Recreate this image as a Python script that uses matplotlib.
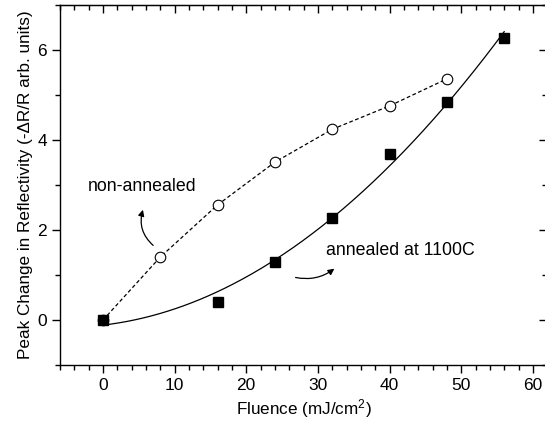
import numpy as np
import matplotlib
matplotlib.use('Agg')
import matplotlib.pyplot as plt
from matplotlib.ticker import MultipleLocator

#################### Fonts
plt.rcParams['font.family'] = ['Liberation Sans', 'DejaVu Sans']
plt.rcParams['mathtext.fontset'] = 'custom'
plt.rcParams['mathtext.rm'] = 'Liberation Sans'
plt.rcParams['mathtext.it'] = 'Liberation Sans:italic'

#################### Data
fluence_open = [0, 8, 16, 24, 32, 40, 48]
refl_open = [0.0, 1.40, 2.56, 3.51, 4.24, 4.76, 5.36]

fluence_ann = [0, 16, 24, 32, 40, 48, 56]
refl_ann = [0.0, 0.40, 1.29, 2.27, 3.69, 4.85, 6.27]

#################### Quadratic fit of the annealed points
coef = np.polyfit(fluence_ann, refl_ann, 2)
xfit = np.linspace(0, 56, 200)
yfit = np.polyval(coef, xfit)

#################### Figure
fig = plt.figure(figsize=(5.45, 4.25), dpi=100)
ax = fig.add_axes([0.110, 0.141, 0.894, 0.847])

ax.plot(fluence_open, refl_open, color='black', lw=0.9, dashes=(3, 2), zorder=2)
ax.plot(fluence_open, refl_open, 'o', ms=7.6, mfc='white', mec='black',
        mew=0.8, zorder=3)
ax.plot(xfit, yfit, color='black', lw=0.9, zorder=2)
ax.plot(fluence_ann, refl_ann, 's', ms=7.6, color='black', zorder=4)

#################### Labels
ax.text(-2.1, 2.96, 'non-annealed', fontsize=12.8, va='center', ha='left')
ax.annotate('', xy=(5.7, 2.51), xytext=(7.3, 1.62),
            arrowprops=dict(arrowstyle='-|>', color='black', lw=0.9,
                            mutation_scale=9,
                            connectionstyle='arc3,rad=-0.35'))
ax.text(31.2, 1.55, 'annealed at 1100C', fontsize=12.8, va='center', ha='left')
ax.annotate('', xy=(32.6, 1.18), xytext=(26.5, 0.96),
            arrowprops=dict(arrowstyle='-|>', color='black', lw=0.9,
                            mutation_scale=9,
                            connectionstyle='arc3,rad=0.25'))

ax.set_xlim(-6, 62)
ax.set_ylim(-1, 7)
ax.set_xlabel('Fluence (mJ/cm$^2$)', fontsize=12.3, labelpad=3)
ax.set_ylabel('Peak Change in Reflectivity (-\u0394R/R arb. units)',
              fontsize=12.3, labelpad=3)

ax.xaxis.set_major_locator(MultipleLocator(10))
ax.xaxis.set_minor_locator(MultipleLocator(2))
ax.yaxis.set_major_locator(MultipleLocator(2))
ax.yaxis.set_minor_locator(MultipleLocator(1))
ax.set_xticks([0, 10, 20, 30, 40, 50, 60])

for s in ax.spines.values():
    s.set_linewidth(1.0)

ax.tick_params(which='both', direction='out', width=1.0, labelsize=12.5,
               top=False, right=False)
ax.tick_params(which='major', length=6)
ax.tick_params(which='minor', length=3.5)

# inward ticks on top and right edges
axt = ax.secondary_xaxis('top')
axt.xaxis.set_major_locator(MultipleLocator(10))
axt.xaxis.set_minor_locator(MultipleLocator(2))
axt.tick_params(which='both', direction='in', width=1.0, labeltop=False)
axt.tick_params(which='major', length=6)
axt.tick_params(which='minor', length=3.5)
axr = ax.secondary_yaxis('right')
axr.yaxis.set_major_locator(MultipleLocator(2))
axr.yaxis.set_minor_locator(MultipleLocator(1))
axr.tick_params(which='both', direction='in', width=1.0, labelright=False)
axr.tick_params(which='major', length=6)
axr.tick_params(which='minor', length=3.5)

fig.savefig('out.png', dpi=100)
